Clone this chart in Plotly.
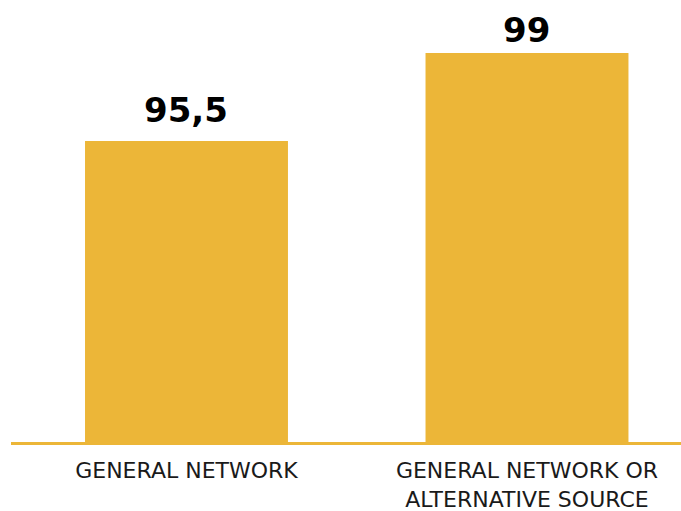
import plotly.graph_objects as go

categories = ["GENERAL NETWORK", "GENERAL NETWORK OR<br>ALTERNATIVE SOURCE"]
values = [95.5, 99]
value_labels = ["95,5", "99"]

GOLD = "#ECB638"

fig = go.Figure(go.Bar(
    x=categories, y=values, marker=dict(color=GOLD, line=dict(width=0)),
    hoverinfo="skip",
))

label_shift = [9, 1]
for i, (c, v, t) in enumerate(zip(categories, values, value_labels)):
    fig.add_annotation(x=c, y=v, text="<b>" + t + "</b>", showarrow=False,
                       xref="x", yref="y", yanchor="bottom", yshift=label_shift[i],
                       font=dict(family="DejaVu Sans", size=34, color="#000000"))

fig.update_layout(
    width=681, height=511,
    margin=dict(l=11, r=0, t=0, b=69),
    paper_bgcolor="white", plot_bgcolor="white",
    bargap=0.404,
    showlegend=False,
    xaxis=dict(range=[-0.5154, 1.4523], showline=True, linecolor=GOLD, linewidth=2.5,
               ticks="", showgrid=False, zeroline=False, ticklabelstandoff=7,
               tickfont=dict(family="DejaVu Sans", size=22, color="#1a1a1a")),
    yaxis=dict(range=[83.53, 101.11], visible=False, showgrid=False, zeroline=False),
)

fig.write_html(
    "out.html",
    config={"displayModeBar": False},
    post_script="document.body.style.margin='0';document.body.style.overflow='hidden';",
)
